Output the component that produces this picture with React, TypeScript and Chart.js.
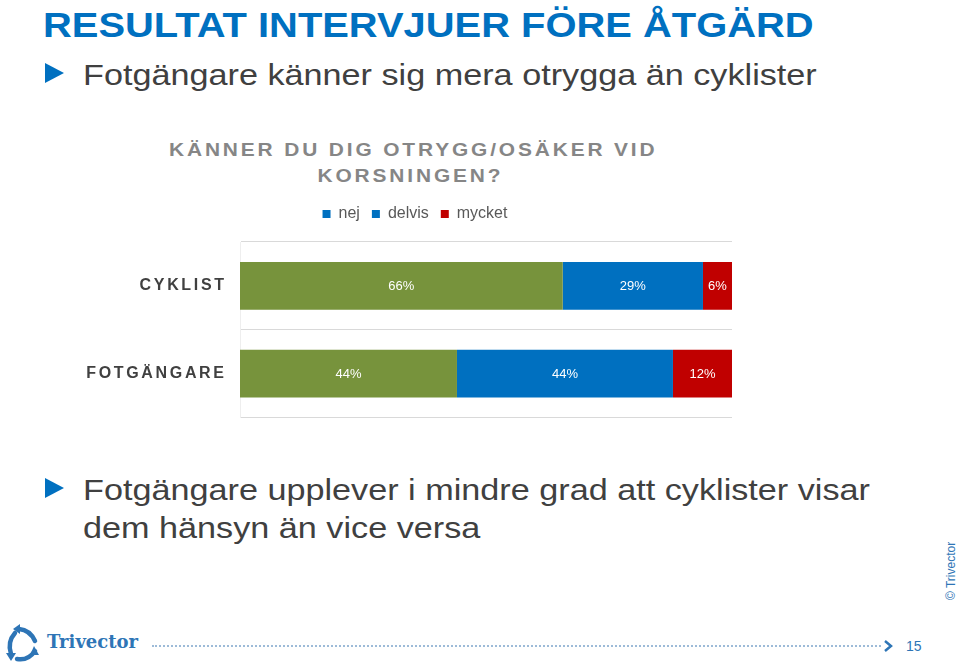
import React, { useEffect, useRef } from "react";
import { Chart, registerables } from "chart.js";

Chart.register(...registerables);

const categories = ["CYKLIST", "FOTGÄNGARE"];
const seriesNames = ["nej", "delvis", "mycket"];
const nejValues = [65.6, 44.1];
const delvisValues = [28.5, 43.9];
const mycketValues = [5.9, 12.0];
const valueLabels = [
  ["66%", "44%"],
  ["29%", "44%"],
  ["6%", "12%"],
];
const seriesColors = ["#77933C", "#0070C0", "#C00000"];
const legendColors = ["#0070C0", "#0070C0", "#C00000"];

const spaced = (s: string) => s.split("").join("\u2006");

const dataLabelPlugin = {
  id: "dataLabels",
  afterDatasetsDraw(chart: any) {
    const ctx = chart.ctx;
    ctx.save();
    ctx.font = "13px Arial, 'Liberation Sans', sans-serif";
    ctx.fillStyle = "#ffffff";
    ctx.textAlign = "center";
    ctx.textBaseline = "middle";
    chart.data.datasets.forEach((ds: any, di: number) => {
      const meta = chart.getDatasetMeta(di);
      meta.data.forEach((el: any, i: number) => {
        const p = el.getProps(["x", "y", "base"], true);
        ctx.fillText(valueLabels[di][i], (p.x + p.base) / 2, p.y + 1);
      });
    });
    ctx.restore();
  },
};

const legendSpacePlugin = {
  id: "legendSpace",
  afterInit(chart: any) {
    const lg = chart.legend;
    if (!lg) return;
    const orig = lg.fit;
    lg.fit = function () {
      orig.call(this);
      this.height += 10;
    };
  },
  afterLayout(chart: any) {
    if (chart.legend) chart.legend.left += 18;
  },
};

function BarChart() {
  const ref = useRef<HTMLCanvasElement | null>(null);
  useEffect(() => {
    if (!ref.current) return;
    const chart = new Chart(ref.current, {
      type: "bar",
      data: {
        labels: categories,
        datasets: [nejValues, delvisValues, mycketValues].map((vals, i) => ({
          label: seriesNames[i],
          data: vals,
          backgroundColor: seriesColors[i],
          borderWidth: 0,
          categoryPercentage: 1,
          barPercentage: 0.545,
        })),
      },
      options: {
        indexAxis: "y",
        animation: false,
        responsive: false,
        maintainAspectRatio: false,
        layout: { padding: { left: 0, right: 18, top: 0, bottom: 1 } },
        scales: {
          x: {
            stacked: true,
            min: 0,
            max: 100,
            display: false,
          },
          y: {
            stacked: true,
            grid: { color: "#d9d9d9", lineWidth: 1, drawTicks: false },
            border: { display: true, color: "#eeeeee" },
            ticks: {
              padding: 16,
              color: "#404040",
              font: { family: "Arial, 'Liberation Sans', sans-serif", size: 16, weight: "bold" },
              callback: (_v: any, i: number) => spaced(categories[i]),
            },
            afterFit: (scale: any) => {
              scale.width = 160;
            },
          },
        },
        plugins: {
          legend: {
            display: true,
            position: "top",
            labels: {
              boxWidth: 8,
              boxHeight: 8,
              padding: 12,
              color: "#595959",
              font: { family: "Arial, 'Liberation Sans', sans-serif", size: 16 },
              generateLabels: (c: any) => {
                const items = Chart.defaults.plugins.legend.labels.generateLabels(c);
                items.forEach((it: any, i: number) => {
                  it.fillStyle = legendColors[i];
                  it.strokeStyle = legendColors[i];
                  it.lineWidth = 0;
                });
                return items;
              },
            },
          },
          tooltip: { enabled: false },
        },
      },
      plugins: [dataLabelPlugin, legendSpacePlugin],
    } as any);
    return () => chart.destroy();
  }, []);
  return <canvas ref={ref} width={670} height={249} style={{ position: "absolute", left: 80, top: 194, width: 670, height: 249 }} />;
}

const Triangle = ({ top }: { top: number }) => (
  <div
    style={{
      position: "absolute",
      left: 45,
      top,
      width: 0,
      height: 0,
      borderTop: "10px solid transparent",
      borderBottom: "10px solid transparent",
      borderLeft: "19px solid #0070C0",
    }}
  />
);

export default function App() {
  const sans = "Arial, 'Liberation Sans', sans-serif";
  const stretch = { transform: "scaleX(1.14)", transformOrigin: "0 0" } as const;
  return (
    <div style={{ position: "absolute", left: 0, top: 0, width: 959, height: 669, background: "#fff", overflow: "hidden", fontFamily: sans }}>
      <div style={{ position: "absolute", left: 43, top: 1, fontSize: 35, fontWeight: "bold", color: "#0070C0", lineHeight: "48px", whiteSpace: "nowrap", ...stretch }}>
        RESULTAT INTERVJUER FÖRE ÅTGÄRD
      </div>
      <Triangle top={63} />
      <div style={{ position: "absolute", left: 83, top: 57, fontSize: 30, color: "#404040", lineHeight: "36px", whiteSpace: "nowrap", ...stretch }}>
        Fotgängare känner sig mera otrygga än cyklister
      </div>
      <div style={{ position: "absolute", left: 169, top: 137, fontSize: 19, fontWeight: "bold", color: "#868686", lineHeight: "26px", letterSpacing: 2.6, whiteSpace: "nowrap", transform: "scaleX(1.1)", transformOrigin: "0 0" }}>
        KÄNNER DU DIG OTRYGG/OSÄKER VID
        <br />
        <span style={{ paddingLeft: 135 }}>KORSNINGEN?</span>
      </div>
      <BarChart />
      <Triangle top={478} />
      <div style={{ position: "absolute", left: 83, top: 471, fontSize: 30, color: "#404040", lineHeight: "38px", whiteSpace: "nowrap", ...stretch }}>
        Fotgängare upplever i mindre grad att cyklister visar
        <br />
        dem hänsyn än vice versa
      </div>
      <div style={{ position: "absolute", left: 944, top: 600, transform: "rotate(-90deg)", transformOrigin: "0 0", fontSize: 12, color: "#2E75B6", whiteSpace: "nowrap" }}>
        © Trivector
      </div>
      <svg style={{ position: "absolute", left: 4, top: 624 }} width={36} height={40} viewBox="0 0 36 40">
        <g fill="none" stroke="#2E75B6" strokeWidth={4.5} strokeLinecap="round">
          <path d="M11 9 Q3 18 7 30" />
          <path d="M13 35 Q24 37 31 27" />
          <path d="M31 17 Q26 6 15 5" />
        </g>
        <g fill="#2E75B6">
          <path d="M2 29 L12 29 L7 37 Z" />
          <path d="M30 22 L35 31 L26 31 Z" />
          <path d="M16 0 L16 10 L9 5 Z" />
        </g>
      </svg>
      <div style={{ position: "absolute", left: 47, top: 630, fontSize: 18, fontWeight: "bold", fontFamily: "'DejaVu Serif', serif", color: "#2E75B6", lineHeight: "24px" }}>
        Trivector
      </div>
      <div style={{ position: "absolute", left: 152, top: 645, width: 729, borderTop: "2px dotted #9dbbd8" }} />
      <svg style={{ position: "absolute", left: 882, top: 639 }} width={12} height={14} viewBox="0 0 12 14">
        <path d="M3 2 L9 7 L3 12" fill="none" stroke="#2E75B6" strokeWidth={2.5} />
      </svg>
      <div style={{ position: "absolute", left: 906, top: 637, fontSize: 14, color: "#2E75B6", lineHeight: "18px" }}>15</div>
    </div>
  );
}
